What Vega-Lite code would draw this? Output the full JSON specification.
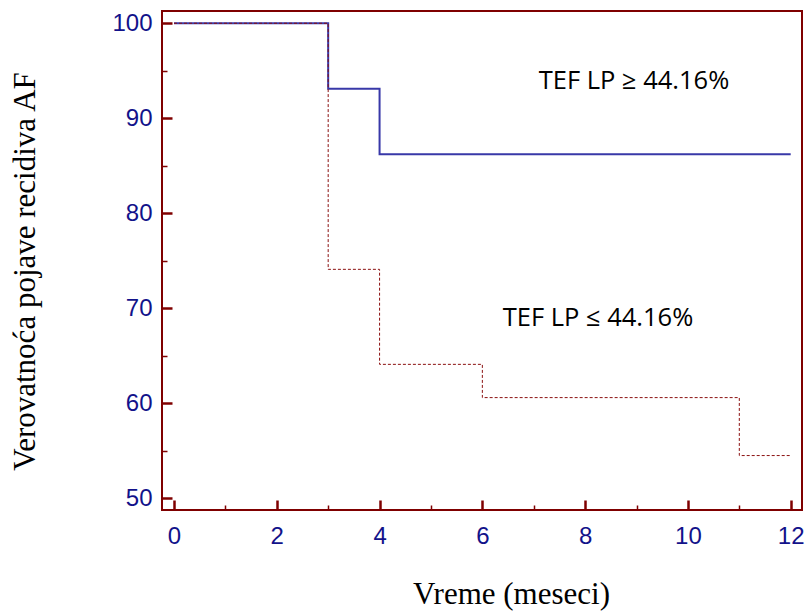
{
  "$schema": "https://vega.github.io/schema/vega-lite/v6.json",
  "width": 640,
  "height": 499,
  "autosize": {"type": "none"},
  "padding": {"left": 162, "top": 11, "right": 5, "bottom": 103},
  "background": "white",
  "config": {
    "view": {"stroke": "#7f0000", "strokeWidth": 2},
    "axis": {
      "domain": false,
      "grid": false,
      "tickColor": "#7f0000",
      "labelColor": "#12128a",
      "labelFont": "Liberation Sans",
      "labelFontSize": 24,
      "titleFont": "Liberation Serif",
      "titleFontSize": 31,
      "titleFontWeight": "normal",
      "titleColor": "black"
    }
  },
  "datasets": {
    "high": [
      {"t": 0, "p": 100},
      {"t": 3, "p": 93.1},
      {"t": 4, "p": 86.2},
      {"t": 12, "p": 86.2}
    ],
    "low": [
      {"t": 0, "p": 100},
      {"t": 3, "p": 74.1},
      {"t": 4, "p": 64.1},
      {"t": 6, "p": 60.6},
      {"t": 11, "p": 54.5},
      {"t": 12, "p": 54.5}
    ],
    "labels": [
      {"t": 8.95, "p": 93.9, "txt": "TEF LP ≥ 44.16%"},
      {"t": 8.25, "p": 69.0, "txt": "TEF LP ≤ 44.16%"}
    ]
  },
  "resolve": {"axis": {"x": "independent", "y": "independent"}},
  "layer": [
    {
      "data": {"name": "high"},
      "mark": {"type": "line", "interpolate": "step-after", "color": "#3838a8", "strokeWidth": 2, "clip": true},
      "encoding": {
        "x": {
          "field": "t", "type": "quantitative",
          "scale": {"domain": [-0.2335, 12.22], "nice": false, "zero": false},
          "axis": {"orient": "bottom", "values": [0, 2, 4, 6, 8, 10, 12], "tickSize": -10, "tickWidth": 2.5, "labelFontSize": 24, "labelFont": "Liberation Sans", "labelColor": "#12128a", "labelPadding": 24, "labelBaseline": "top", "title": "Vreme (meseci)", "titleX": 349, "titleY": 93, "titleBaseline": "alphabetic", "titleAlign": "center"}
        },
        "y": {
          "field": "p", "type": "quantitative",
          "scale": {"domain": [48.77, 101.29], "nice": false, "zero": false},
          "axis": {"orient": "left", "values": [50, 60, 70, 80, 90, 100], "tickSize": -10, "tickWidth": 2.5, "labelFontSize": 24, "labelFont": "Liberation Sans", "labelColor": "#12128a", "labelPadding": 20, "title": "Verovatnoća pojave recidiva AF", "titleX": -137, "titleY": 260, "titleAngle": -90, "titleBaseline": "middle", "titleAlign": "center"}
        }
      }
    },
    {
      "data": {"name": "low"},
      "mark": {"type": "line", "interpolate": "step-after", "color": "#8b1010", "strokeWidth": 1, "strokeDash": [3, 2], "clip": true},
      "encoding": {
        "x": {
          "field": "t", "type": "quantitative",
          "axis": {"orient": "bottom", "values": [1, 3, 5, 7, 9, 11], "tickSize": -5, "tickWidth": 1.5, "labels": false, "title": null}
        },
        "y": {
          "field": "p", "type": "quantitative",
          "axis": {"orient": "left", "values": [55, 65, 75, 85, 95], "tickSize": -5, "tickWidth": 1.5, "labels": false, "title": null}
        }
      }
    },
    {
      "data": {"name": "labels"},
      "mark": {"type": "text", "font": "Open Sans", "fontSize": 25.5, "color": "black", "align": "center", "baseline": "middle"},
      "encoding": {
        "x": {"field": "t", "type": "quantitative", "axis": null},
        "y": {"field": "p", "type": "quantitative", "axis": null},
        "text": {"field": "txt"}
      }
    }
  ]
}
